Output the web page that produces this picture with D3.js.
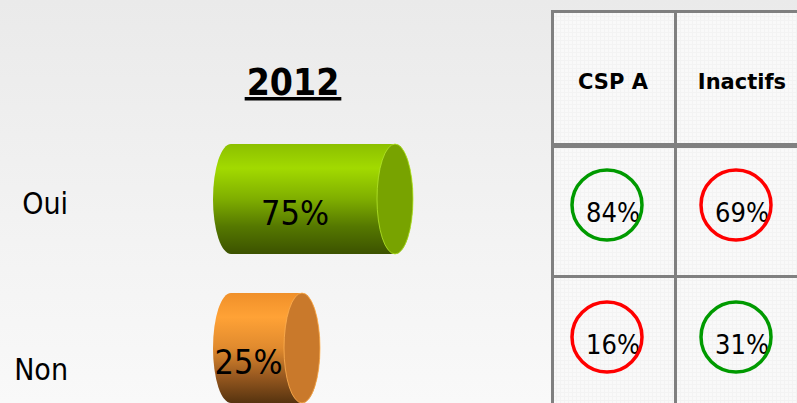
<!DOCTYPE html>
<html>
<head>
<meta charset="utf-8">
<script src="https://cdn.jsdelivr.net/npm/d3@7"></script>
<style>
  html, body { margin: 0; padding: 0; overflow: hidden; }
  svg { display: block; }
  text { font-family: "DejaVu Sans Condensed", "DejaVu Sans", sans-serif; }
</style>
</head>
<body>
<div id="chart"></div>
<script>
const WIDTH = 797;
const HEIGHT = 403;

const title = '2012';
const answers = ['Oui', 'Non'];
const overall = [75, 25];
const groups = ['CSP A', 'Inactifs'];
const groupValues = {
  'CSP A': [84, 16],
  'Inactifs': [69, 31]
};

const cylColors = {
  Oui: { stops: ['#8cc000', '#a2da00', '#7fae00', '#557800', '#3c5200'], cap: '#78a300', edge: '#b4e62a' },
  Non: { stops: ['#f0902a', '#ffa236', '#e08a2e', '#9a5a20', '#56330f'], cap: '#c9792b', edge: '#ffb050' }
};

const TABLE_LEFT = 552.5;
const TABLE_TOP = 11.5;
const COL_WIDTHS = [123, 135];
const HEADER_H = 133;
const ROW_H = 132;
const RX = 18;
const RY = 55;

let svg = d3.select('#chart').append('svg')
  .attr('width', WIDTH)
  .attr('height', HEIGHT);

let defs = svg.append('defs');

let bg = defs.append('linearGradient')
  .attr('id', 'bg')
  .attr('x1', 0).attr('y1', 0).attr('x2', 0).attr('y2', 1);
bg.append('stop').attr('offset', '0%').attr('stop-color', '#eaeaea');
bg.append('stop').attr('offset', '100%').attr('stop-color', '#f9f9f9');

let pat = defs.append('pattern')
  .attr('id', 'grid')
  .attr('width', 4).attr('height', 4)
  .attr('patternUnits', 'userSpaceOnUse');
pat.append('rect').attr('width', 4).attr('height', 4).attr('fill', '#f9f9f9');
pat.append('path').attr('d', 'M0,0.5H4M0.5,0V4').attr('stroke', '#f3f3f3').attr('stroke-width', 1);

answers.forEach((a) => {
  let g = defs.append('linearGradient')
    .attr('id', 'body-' + a)
    .attr('x1', 0).attr('y1', 0).attr('x2', 0).attr('y2', 1);
  let offs = [0, 0.22, 0.5, 0.75, 1];
  cylColors[a].stops.forEach((c, i) => {
    g.append('stop').attr('offset', offs[i]).attr('stop-color', c);
  });
});

svg.append('rect')
  .attr('width', WIDTH)
  .attr('height', HEIGHT)
  .attr('fill', 'url(#bg)');

// title
let titleText = svg.append('text')
  .attr('x', 293)
  .attr('y', 95)
  .attr('text-anchor', 'middle')
  .style('font-size', '37px')
  .style('font-weight', 'bold')
  .text(title);
let tb = titleText.node().getBBox();
svg.append('rect')
  .attr('x', tb.x - 2)
  .attr('y', 97)
  .attr('width', tb.width + 4)
  .attr('height', 3.5)
  .attr('fill', '#000');

// cylinders
let xScale = d3.scaleLinear().domain([0, 100]).range([255.5, 441.5]);
let yScale = d3.scalePoint().domain(answers).range([199, 348]);
let labelY = d3.scalePoint().domain(answers).range([214, 380]);
let startX = xScale(0) - 24.5;

answers.forEach((a, i) => {
  let cy = yScale(a);
  let x1 = xScale(overall[i]);
  let top = cy - RY, bottom = cy + RY;
  let g = svg.append('g');

  g.append('path')
    .attr('d', `M${startX},${top}L${x1},${top}A${RX},${RY} 0 0 1 ${x1},${bottom}` +
      `L${startX},${bottom}A${RX},${RY} 0 0 1 ${startX},${top}Z`)
    .attr('fill', `url(#body-${a})`);

  g.append('ellipse')
    .attr('cx', x1)
    .attr('cy', cy)
    .attr('rx', RX)
    .attr('ry', RY)
    .attr('fill', cylColors[a].cap)
    .attr('stroke', cylColors[a].edge)
    .attr('stroke-width', 0.8);

  g.append('text')
    .attr('x', (startX - RX + x1 - RX) / 2)
    .attr('y', cy + 26)
    .attr('text-anchor', 'middle')
    .style('font-size', '34px')
    .text(overall[i] + '%');

  svg.append('text')
    .attr('x', 68)
    .attr('y', labelY(a))
    .attr('text-anchor', 'end')
    .style('font-size', '30px')
    .text(a);
});

// table
let colX = [TABLE_LEFT];
COL_WIDTHS.forEach((w, i) => colX.push(colX[i] + w));
let rowY = [TABLE_TOP, TABLE_TOP + HEADER_H];
answers.forEach((a, i) => rowY.push(rowY[i + 1] + ROW_H));

let table = svg.append('g');
table.append('rect')
  .attr('x', colX[0])
  .attr('y', rowY[0])
  .attr('width', colX[colX.length - 1] - colX[0])
  .attr('height', rowY[rowY.length - 1] - rowY[0])
  .attr('fill', 'url(#grid)');

colX.forEach((x) => {
  table.append('line')
    .attr('x1', x).attr('x2', x)
    .attr('y1', rowY[0]).attr('y2', rowY[rowY.length - 1])
    .attr('stroke', '#808080').attr('stroke-width', 3);
});
rowY.forEach((y, i) => {
  table.append('line')
    .attr('x1', colX[0] - 1.5).attr('x2', colX[colX.length - 1] + 1.5)
    .attr('y1', i === 1 ? y + 1 : y).attr('y2', i === 1 ? y + 1 : y)
    .attr('stroke', '#808080').attr('stroke-width', i === 1 ? 5 : 3);
});

groups.forEach((grp, c) => {
  let cx = (colX[c] + colX[c + 1]) / 2 - 1;
  table.append('text')
    .attr('x', cx)
    .attr('y', rowY[0] + 77)
    .attr('text-anchor', 'middle')
    .style('font-family', '"DejaVu Sans", sans-serif')
    .style('font-size', '21px')
    .style('font-weight', 'bold')
    .text(grp);

  groupValues[grp].forEach((v, r) => {
    let base = rowY[r + 1] + 77.5;
    table.append('text')
      .attr('x', cx)
      .attr('y', base)
      .attr('text-anchor', 'middle')
      .style('font-size', '27px')
      .text(v + '%');
    table.append('circle')
      .attr('cx', cx - 6)
      .attr('cy', base - 17)
      .attr('r', 35)
      .attr('fill', 'none')
      .attr('stroke', v > overall[r] ? '#009a00' : '#ff0000')
      .attr('stroke-width', 3.5);
  });
});
</script>
</body>
</html>
